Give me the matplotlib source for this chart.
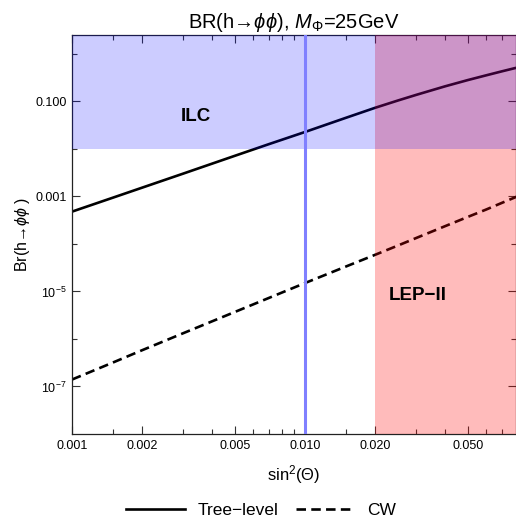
import matplotlib
matplotlib.use("Agg")
import matplotlib.pyplot as plt
from matplotlib.patches import Rectangle

plt.rcParams['font.family'] = ['Liberation Sans', 'DejaVu Sans']
plt.rcParams['mathtext.fontset'] = 'custom'
plt.rcParams['mathtext.rm'] = 'Liberation Sans'
plt.rcParams['mathtext.it'] = 'Liberation Sans:italic'
plt.rcParams['mathtext.bf'] = 'Liberation Sans:bold'

# values
sin2 = [0.001, 0.0015, 0.002, 0.003, 0.005, 0.007, 0.01, 0.015, 0.02,
        0.025, 0.03, 0.04, 0.05, 0.06, 0.07, 0.08, 0.081]
br_tree = [4.79e-4, 9.44e-4, 1.53e-3, 3.02e-3, 7.16e-3, 0.0126, 0.0227, 0.0452, 0.0733,
           0.104, 0.137, 0.208, 0.281, 0.354, 0.429, 0.504, 0.51]
br_cw = [1.4e-7, 3.2e-7, 5.8e-7, 1.32e-6, 3.7e-6, 7.3e-6, 1.5e-5, 3.35e-5, 5.9e-5,
         9.2e-5, 1.33e-4, 2.37e-4, 3.7e-4, 5.3e-4, 7.3e-4, 9.6e-4, 9.85e-4]

xmin, xmax = 0.001, 0.0806
ymin, ymax = 1e-8, 2.5
ilc_limit = 0.01      # BR reach of ILC
lep_limit = 0.02      # sin^2 excluded by LEP-II
benchmark = 0.01      # vertical line

xmajor = [0.001, 0.002, 0.005, 0.01, 0.02, 0.05]
xmajor_labels = ["0.001", "0.002", "0.005", "0.010", "0.020", "0.050"]
xminor = [0.0015, 0.003, 0.004, 0.006, 0.007, 0.008, 0.009, 0.015, 0.03, 0.04, 0.06, 0.07]
ymajor = [0.1, 1e-3, 1e-5, 1e-7]
ymajor_labels = ["0.100", "0.001", r"$10^{-5}$", r"$10^{-7}$"]
yminor = [1.0, 1e-2, 1e-4, 1e-6]

fig = plt.figure(figsize=(5.16, 5.19), dpi=100)
ax = fig.add_axes([72/516, 1-434/519, 1-72/516, (434-35)/519])

ax.plot(sin2, br_tree, color='black', lw=1.9, zorder=2, label='Tree\u2212level')
ax.plot(sin2, br_cw, color='black', lw=1.9, dashes=(3.6, 2.0), zorder=2, label='CW')

# shaded regions drawn over the curves and the frame
ax.add_patch(Rectangle((lep_limit, ymin), xmax-lep_limit, ymax-ymin,
                       facecolor=(1, 0, 0), alpha=0.265, lw=0, zorder=3, clip_on=False))
ax.add_patch(Rectangle((xmin, ilc_limit), xmax-xmin, ymax-ilc_limit,
                       facecolor=(0, 0, 1), alpha=0.2, lw=0, zorder=3, clip_on=False))
ax.axvline(benchmark, color='#8080ff', lw=2.2, zorder=4)

ax.text(0.0034, 0.048, "ILC", fontsize=13.5, fontweight='bold', ha='center', va='center', zorder=5)
ax.text(0.0306, 8.1e-6, "LEP\u2212II", fontsize=13.5, fontweight='bold', ha='center', va='center', zorder=5)

ax.set_xscale('log')
ax.set_yscale('log')
ax.set_xlim(xmin, xmax)
ax.set_ylim(ymin, ymax)

ax.set_xticks(xmajor)
ax.set_xticklabels(xmajor_labels)
ax.set_xticks(xminor, minor=True)
ax.set_xticklabels([], minor=True)
ax.set_yticks(ymajor)
ax.set_yticklabels(ymajor_labels)
ax.set_yticks(yminor, minor=True)
ax.set_yticklabels([], minor=True)
ax.tick_params(which='both', direction='in', top=True, right=True, labelsize=9, width=0.8, color='#333333')
ax.tick_params(which='major', length=6, pad=4)
ax.tick_params(which='minor', length=3.5)
for s in ax.spines.values():
    s.set_linewidth(0.9)
    s.set_color('#222222')

ax.set_title("BR(h\u2192$\\phi\\phi$), $M_\\Phi$=25GeV", fontsize=14.5, pad=5)
ax.set_xlabel(r"sin$^2$($\Theta$)", fontsize=12, labelpad=8)
ax.set_ylabel("Br(h\u2192$\\phi\\phi$ )", fontsize=11.5, labelpad=2)

fig.legend(loc='lower center', bbox_to_anchor=(0.506, -0.029), ncol=2, frameon=False,
           fontsize=12.5, handlelength=3.4, handletextpad=0.7, columnspacing=1.0)

fig.savefig("out.png", dpi=100)
